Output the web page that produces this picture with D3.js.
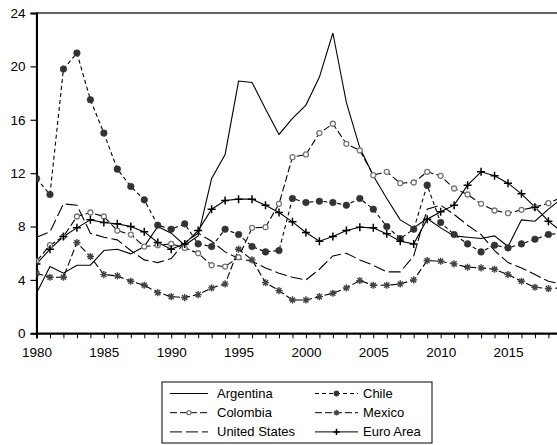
<!DOCTYPE html>
<html>
<head>
<meta charset="utf-8">
<script src="https://cdn.jsdelivr.net/npm/d3@7/dist/d3.min.js"></script>
<style>
  html, body { margin: 0; padding: 0; background: #fff; }
  svg { display: block; font-family: "Liberation Sans", Arial, sans-serif; }
</style>
</head>
<body>
<svg id="chart" width="557" height="445"></svg>
<script>
// Unemployment rates (%), 1980-2019
const years = d3.range(1980, 2020);

const argentina = [3.0,5.0,4.5,5.1,5.1,6.2,6.3,5.95,6.5,8.0,
  7.5,6.6,7.3,11.6,13.4,18.9,18.8,16.8,14.9,16.1,
  17.1,19.2,22.5,17.3,13.9,11.8,10.1,8.5,7.9,8.6,
  7.9,7.3,7.2,7.1,7.3,6.5,8.5,8.4,9.3,10.1];

const chile = [11.6,10.4,19.8,21.0,17.5,15.0,12.3,11.0,10.0,8.1,
  7.8,8.2,6.7,6.5,7.8,7.4,6.5,6.1,6.2,10.1,
  9.8,9.9,9.8,9.6,10.1,9.3,8.0,7.1,7.8,11.1,
  8.3,7.4,6.7,6.1,6.6,6.4,6.7,7.05,7.4,7.5];

const colombia = [5.4,6.6,7.25,8.75,9.05,8.75,7.7,7.4,6.5,6.6,
  6.7,6.4,6.0,5.1,5.0,5.7,7.9,7.95,9.7,13.2,
  13.4,15.0,15.7,14.2,13.7,11.85,12.1,11.25,11.3,12.1,
  11.8,10.85,10.4,9.7,9.2,9.0,9.25,9.45,9.75,10.2];

const mexico = [4.5,4.2,4.2,6.8,5.75,4.4,4.3,3.9,3.6,3.05,
  2.75,2.68,2.9,3.4,3.7,6.3,5.5,3.8,3.2,2.5,
  2.5,2.75,3.0,3.4,3.95,3.6,3.6,3.7,4.0,5.45,
  5.4,5.2,4.95,4.9,4.8,4.4,3.9,3.45,3.35,3.4];

const unitedStates = [7.2,7.6,9.7,9.6,7.5,7.2,7.0,6.2,5.5,5.3,
  5.6,6.8,7.5,6.9,6.1,5.6,5.4,4.9,4.5,4.2,
  4.0,4.8,5.8,6.0,5.5,5.1,4.6,4.6,5.8,9.3,
  9.6,8.9,8.1,7.4,6.2,5.3,4.9,4.4,3.9,3.7];

const euroArea = [5.2,6.3,7.25,7.9,8.5,8.3,8.2,8.0,7.6,6.8,
  6.3,6.7,7.7,9.3,9.95,10.05,10.05,9.6,9.05,8.35,
  7.55,6.9,7.25,7.7,7.95,7.9,7.45,6.9,6.7,8.55,
  9.1,9.6,11.1,12.1,11.8,11.25,10.45,9.45,8.4,7.6];

const xTickLabels = [1980, 1985, 1990, 1995, 2000, 2005, 2010, 2015];
const yTickLabels = [0, 4, 8, 12, 16, 20, 24];

const series = [
  { name: "Argentina", values: argentina, dash: null, marker: "none" },
  { name: "Chile", values: chile, dash: "4,3", marker: "dot" },
  { name: "Colombia", values: colombia, dash: "7,3", marker: "ring" },
  { name: "Mexico", values: mexico, dash: "7,3", marker: "star" },
  { name: "United States", values: unitedStates, dash: "12,4", marker: "none" },
  { name: "Euro Area", values: euroArea, dash: null, marker: "plus" }
];

const svg = d3.select("#chart");
const plotLeft = 36.5, plotTop = 13, plotBottom = 333.3;

const x = d3.scaleLinear().domain([1980, 2019]).range([plotLeft, 561.9]);
const y = d3.scaleLinear().domain([0, 24]).range([plotBottom, plotTop]);

// plot frame
svg.append("rect")
  .attr("x", plotLeft).attr("y", plotTop)
  .attr("width", x(2019) - plotLeft + 2).attr("height", plotBottom - plotTop)
  .attr("fill", "none").attr("stroke", "#000").attr("stroke-width", 1.2);

// axes
const yAxis = d3.axisLeft(y).tickValues(yTickLabels).tickSize(6).tickPadding(5);
const gy = svg.append("g").attr("transform", `translate(${plotLeft},0)`).call(yAxis);
gy.select(".domain").attr("stroke-width", 2);
gy.selectAll("line").attr("stroke-width", 1.2);
gy.selectAll("text").attr("font-size", 13.5).attr("fill", "#000")
  .attr("font-family", "Liberation Sans, Arial, sans-serif");

const xAxis = d3.axisBottom(x).tickValues(years.filter(v => v <= 2019))
  .tickSize(5).tickPadding(9)
  .tickFormat(d => xTickLabels.includes(d) ? d : "");
const gx = svg.append("g").attr("transform", `translate(0,${plotBottom})`).call(xAxis);
gx.select(".domain").attr("stroke-width", 2);
gx.selectAll("line").attr("stroke-width", 1);
gx.selectAll("text").attr("font-size", 13.5).attr("fill", "#000")
  .attr("font-family", "Liberation Sans, Arial, sans-serif");

svg.append("defs").append("clipPath").attr("id", "plotclip")
  .append("rect").attr("x", plotLeft).attr("y", plotTop - 6)
  .attr("width", 600).attr("height", plotBottom - plotTop + 12);

const line = d3.line().x((d, i) => x(years[i])).y(d => y(d));

const starPath = (s) => {
  let p = "";
  for (let k = 0; k < 4; k++) {
    const a = k * Math.PI / 4;
    const dx = Math.cos(a) * s, dy = Math.sin(a) * s;
    p += `M${-dx},${-dy}L${dx},${dy}`;
  }
  return p;
};

function drawMarker(g, type, cx, cy, small) {
  const k = small ? 0.8 : 1;
  if (type === "dot") {
    g.append("circle").attr("cx", cx).attr("cy", cy).attr("r", 3.3 * k)
      .attr("fill", "#333").attr("stroke", "#333").attr("stroke-width", 0.6);
  } else if (type === "ring") {
    g.append("circle").attr("cx", cx).attr("cy", cy).attr("r", 2.5 * k)
      .attr("fill", "#fff").attr("stroke", "#777").attr("stroke-width", 1.3);
  } else if (type === "star") {
    g.append("path").attr("transform", `translate(${cx},${cy})`)
      .attr("d", starPath(3.6 * k)).attr("stroke", "#444").attr("stroke-width", 1.4)
      .attr("fill", "none");
  } else if (type === "plus") {
    g.append("path").attr("transform", `translate(${cx},${cy})`)
      .attr("d", `M${-4 * k},0L${4 * k},0M0,${-4 * k}L0,${4 * k}`)
      .attr("stroke", "#000").attr("stroke-width", 1.5).attr("fill", "none");
  }
}

const plot = svg.append("g").attr("clip-path", "url(#plotclip)");
series.forEach(s => {
  plot.append("path").datum(s.values)
    .attr("d", line)
    .attr("fill", "none").attr("stroke", "#000").attr("stroke-width", 1.1)
    .attr("stroke-dasharray", s.dash);
});
series.forEach(s => {
  if (s.marker === "none") return;
  const g = plot.append("g");
  s.values.forEach((v, i) => drawMarker(g, s.marker, x(years[i]), y(v), false));
});

// legend
const lg = svg.append("g");
lg.append("rect").attr("x", 162).attr("y", 382).attr("width", 270).attr("height", 61)
  .attr("fill", "#fff").attr("stroke", "#000").attr("stroke-width", 1);
const cols = [{ lx0: 170, lx1: 208, tx: 217 }, { lx0: 315, lx1: 358, tx: 363 }];
series.forEach((s, i) => {
  const c = cols[i % 2];
  const ry = 393.5 + Math.floor(i / 2) * 19.2;
  lg.append("line").attr("x1", c.lx0).attr("x2", c.lx1).attr("y1", ry).attr("y2", ry)
    .attr("stroke", "#000").attr("stroke-width", 1)
    .attr("stroke-dasharray", s.dash);
  drawMarker(lg, s.marker, (c.lx0 + c.lx1) / 2, ry, true);
  lg.append("text").attr("x", c.tx).attr("y", ry).attr("dy", "0.35em")
    .attr("font-size", 13).attr("fill", "#000").text(s.name);
});
</script>
</body>
</html>
